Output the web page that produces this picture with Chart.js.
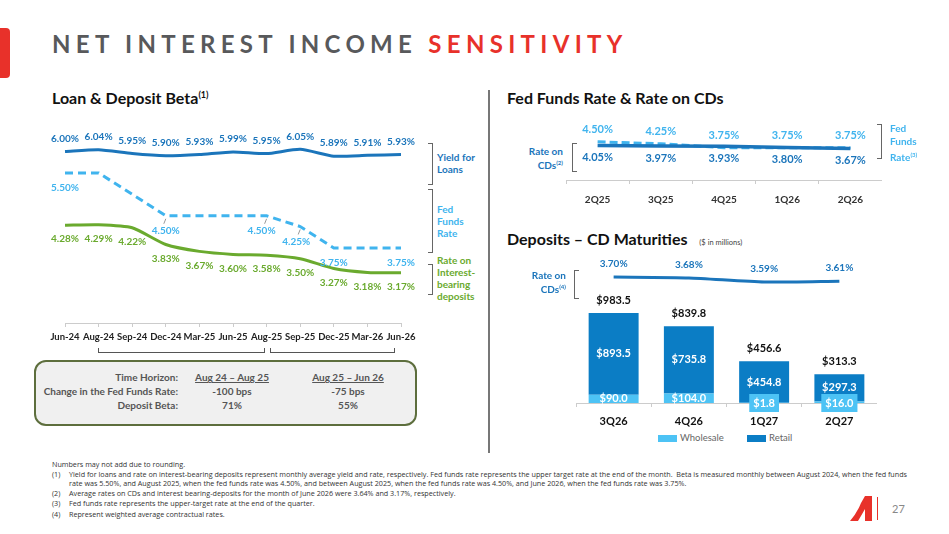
<!DOCTYPE html>
<html>
<head>
<meta charset="utf-8">
<title>Net Interest Income Sensitivity</title>
<script src="https://cdn.jsdelivr.net/npm/chart.js@4.4.1/dist/chart.umd.min.js"></script>
<style>
  html, body { margin: 0; padding: 0; background: #fff; }
  body { width: 949px; height: 534px; position: relative; overflow: hidden; font-family: "Lato", sans-serif; color: #222; }
  .abs { position: absolute; white-space: nowrap; }
  canvas { position: absolute; }
  .title { left: 52px; top: 29px; font-size: 24px; font-weight: 700; letter-spacing: 5.3px; color: #58595b; }
  .title span { color: #e8312a; }
  .h2 { font-size: 16px; font-weight: 700; color: #111; }
  .h2 sup { font-size: 9px; vertical-align: 6px; }
  .side { font-size: 10px; font-weight: 700; line-height: 12px; }
  .side sup { font-size: 6px; vertical-align: 4px; }
  .brR { position: absolute; width: 4px; border: 1.3px solid #666; border-left: none; }
  .brL { position: absolute; width: 4px; border: 1.3px solid #666; border-right: none; }
  .brU { position: absolute; height: 4px; border: 1.3px solid #555; border-top: none; }
  .box { left: 34px; top: 360px; width: 379px; height: 62px; border: 2px solid #5d6e3d; border-radius: 12px; background: #f0f0f0; }
  .bx { font-size: 10px; font-weight: 700; color: #555; }
  .note { font-size: 7.2px; color: #333; font-family: "Open Sans", sans-serif; }
</style>
</head>
<body>
<div class="abs" style="left:0;top:28px;width:10px;height:50px;background:#e8312a;border-radius:0 4px 4px 0"></div>
<div class="abs title">NET INTEREST INCOME <span>SENSITIVITY</span></div>

<div class="abs h2" style="left:52px;top:88px">Loan &amp; Deposit Beta<sup>(1)</sup></div>
<div class="abs h2" style="left:507px;top:88px">Fed Funds Rate &amp; Rate on CDs</div>
<div class="abs h2" style="left:507px;top:229px">Deposits – CD Maturities <span style="font-size:7.5px;font-weight:400;color:#444;margin-left:8px">($ in millions)</span></div>

<div class="abs" style="left:488px;top:90px;width:1.5px;height:363px;background:#777"></div>

<canvas id="betaChart" style="left:40px;top:95px;width:386px;height:248px"></canvas>
<canvas id="fedChart" style="left:566px;top:100px;width:316px;height:108px"></canvas>
<canvas id="cdChart" style="left:576px;top:250px;width:301px;height:181px"></canvas>

<!-- left chart side labels -->
<div class="brR" style="left:428px;top:143px;height:40px"></div>
<div class="abs side" style="left:437px;top:151px;color:#1b75bb">Yield for<br>Loans</div>
<div class="brR" style="left:428px;top:189px;height:62px"></div>
<div class="abs side" style="left:437px;top:203px;color:#40b4ee">Fed<br>Funds<br>Rate</div>
<div class="brR" style="left:428px;top:264px;height:29px"></div>
<div class="abs side" style="left:437px;top:254px;color:#6aaa2e">Rate on<br>Interest-<br>bearing<br>deposits</div>

<!-- period brackets and summary box -->
<div class="brU" style="left:98px;top:348px;width:165px"></div>
<div class="brU" style="left:270px;top:348px;width:123px"></div>
<div class="abs box"></div>
<div class="abs bx" style="right:771px;top:371px;text-align:right">Time Horizon:</div>
<div class="abs bx" style="right:771px;top:385px;text-align:right">Change in the Fed Funds Rate:</div>
<div class="abs bx" style="right:771px;top:399px;text-align:right">Deposit Beta:</div>
<div class="abs bx" style="left:182px;width:100px;top:371px;text-align:center;text-decoration:underline">Aug 24 – Aug 25</div>
<div class="abs bx" style="left:182px;width:100px;top:385px;text-align:center">-100 bps</div>
<div class="abs bx" style="left:182px;width:100px;top:399px;text-align:center">71%</div>
<div class="abs bx" style="left:298px;width:100px;top:371px;text-align:center;text-decoration:underline">Aug 25 – Jun 26</div>
<div class="abs bx" style="left:298px;width:100px;top:385px;text-align:center">-75 bps</div>
<div class="abs bx" style="left:298px;width:100px;top:399px;text-align:center">55%</div>

<!-- top right side labels -->
<div class="abs side" style="right:386px;top:145px;text-align:right;color:#1b75bb">Rate on<br>CDs<sup>(2)</sup></div>
<div class="brL" style="left:572px;top:143px;height:27px"></div>
<div class="brR" style="left:877px;top:124px;height:33px"></div>
<div class="abs side" style="left:890px;top:122px;color:#40b4ee;line-height:13px">Fed<br>Funds<br>Rate<sup>(3)</sup></div>

<!-- bottom right side labels -->
<div class="abs side" style="right:383px;top:269px;text-align:right;color:#1b75bb">Rate on<br>CDs<sup>(4)</sup></div>
<div class="brL" style="left:574px;top:270px;height:27px"></div>

<div class="abs" style="left:658px;top:435px;width:19px;height:7px;background:#4dc3f5"></div>
<div class="abs" style="left:680px;top:432px;font-size:9.5px;color:#666">Wholesale</div>
<div class="abs" style="left:747px;top:435px;width:19px;height:7px;background:#0b7dc5"></div>
<div class="abs" style="left:769px;top:432px;font-size:9.5px;color:#666">Retail</div>

<!-- footnotes -->
<div class="abs note" style="left:52px;top:459px">Numbers may not add due to rounding.</div>
<div class="abs note" style="left:52px;top:469px">(1)</div>
<div class="abs note" style="left:69px;top:469px">Yield for loans and rate on interest-bearing deposits represent monthly average yield and rate, respectively. Fed funds rate represents the upper target rate at the end of the month.&nbsp; Beta is measured monthly between August 2024, when the fed funds</div>
<div class="abs note" style="left:69px;top:478px">rate was 5.50%, and August 2025, when the fed funds rate was 4.50%, and between August 2025, when the fed funds rate was 4.50%, and June 2026, when the fed funds rate was 3.75%.</div>
<div class="abs note" style="left:52px;top:488px">(2)</div>
<div class="abs note" style="left:69px;top:488px">Average rates on CDs and interest bearing-deposits for the month of June 2026 were 3.64% and 3.17%, respectively.</div>
<div class="abs note" style="left:52px;top:498px">(3)</div>
<div class="abs note" style="left:69px;top:498px">Fed funds rate represents the upper-target rate at the end of the quarter.</div>
<div class="abs note" style="left:52px;top:509px">(4)</div>
<div class="abs note" style="left:69px;top:509px">Represent weighted average contractual rates.</div>

<svg class="abs" style="left:850px;top:496px" width="24" height="25" viewBox="0 0 24 25">
  <path d="M0 25 Q7 17 11 7 L15 0 L22 0 L22 25 L15 25 L15 13 Q11 20 8 25 Z" fill="#e8312a"/>
</svg>
<div class="abs" style="left:877px;top:497px;width:1.3px;height:23px;background:#e8312a"></div>
<div class="abs" style="left:892px;top:502px;font-size:11px;color:#888">27</div>

<script>
// ---- data ----
const betaMonths = ['Jun-24', 'Aug-24', 'Sep-24', 'Dec-24', 'Mar-25', 'Jun-25', 'Aug-25', 'Sep-25', 'Dec-25', 'Mar-26', 'Jun-26'];
const loanYield = [6.00, 6.04, 5.95, 5.90, 5.93, 5.99, 5.95, 6.05, 5.89, 5.91, 5.93];
const fedFundsMonthly = [5.50, 5.50, 5.00, 4.50, 4.50, 4.50, 4.50, 4.25, 3.75, 3.75, 3.75];
const depositRate = [4.28, 4.29, 4.22, 3.83, 3.67, 3.60, 3.58, 3.50, 3.27, 3.18, 3.17];

const quarters = ['2Q25', '3Q25', '4Q25', '1Q26', '2Q26'];
const fedFundsQtr = [4.50, 4.25, 3.75, 3.75, 3.75];
const cdRateQtr = [4.05, 3.97, 3.93, 3.80, 3.67];

const maturityQtrs = ['3Q26', '4Q26', '1Q27', '2Q27'];
const wholesale = [90.0, 104.0, 1.8, 16.0];
const retail = [893.5, 735.8, 454.8, 297.3];
const maturityCdRate = [3.70, 3.68, 3.59, 3.61];

const DARK = '#1b75bb', LIGHT = '#40b4ee', GREEN = '#6aaa2e';
const pct = v => v.toFixed(2) + '%';
const usd = v => '$' + v.toFixed(1);

Chart.defaults.font.family = 'Lato';
Chart.defaults.animation = false;
Chart.defaults.plugins.legend.display = false;
Chart.defaults.plugins.tooltip.enabled = false;

// draws value labels next to points / inside bars
const pointLabels = {
    id: 'pointLabels',
    afterDatasetsDraw(chart) {
        const ctx = chart.ctx;
        chart.data.datasets.forEach((ds, i) => {
            const o = ds.pointLabel;
            if (!o) return;
            chart.getDatasetMeta(i).data.forEach((el, j) => {
                if (o.only && !o.only.includes(j)) return;
                const text = o.format(ds.data[j]);
                let x = el.x + ((o.dx && o.dx[j]) || 0);
                let y = el.y + (o.dy || 0);
                ctx.save();
                ctx.font = o.font;
                ctx.textAlign = 'center';
                ctx.textBaseline = 'middle';
                if (o.mode === 'center') {
                    y = (el.y + el.base) / 2;
                } else if (o.mode === 'base') {
                    const h = el.base - el.y;
                    if (h < 5) {
                        // tiny segment: put the label in a little box on the axis
                        const w = ctx.measureText(text).width + 8;
                        ctx.fillStyle = o.boxColor;
                        ctx.fillRect(x - w / 2, el.base - 9, w, 18);
                        y = el.base;
                    } else {
                        y = el.base - 5;
                    }
                }
                if (o.leader && o.leader.includes(j)) {
                    ctx.strokeStyle = '#999';
                    ctx.lineWidth = 1;
                    ctx.beginPath();
                    ctx.moveTo(el.x, el.y + 3);
                    ctx.lineTo(el.x - 2, el.y + 8);
                    ctx.stroke();
                }
                ctx.fillStyle = o.color;
                ctx.fillText(text, x, y);
                ctx.restore();
            });
        });
    }
};

// Loan & Deposit Beta
new Chart(document.getElementById('betaChart'), {
    type: 'line',
    data: {
        labels: betaMonths,
        datasets: [
            {
                data: loanYield, borderColor: DARK, borderWidth: 3, pointRadius: 0, tension: 0.2,
                pointLabel: { format: pct, color: DARK, font: 'bold 10px Lato', dy: -13 }
            },
            {
                data: fedFundsMonthly, borderColor: LIGHT, borderWidth: 3, borderDash: [8, 5], pointRadius: 0, tension: 0,
                pointLabel: { format: pct, color: LIGHT, font: 'bold 10px Lato', dy: 15,
                    only: [0, 3, 6, 7, 8, 10], leader: [3, 6, 7], dx: { 6: -5, 7: -4 } }
            },
            {
                data: depositRate, borderColor: GREEN, borderWidth: 3, pointRadius: 0, tension: 0.2,
                pointLabel: { format: pct, color: GREEN, font: 'bold 10px Lato', dy: 14 }
            }
        ]
    },
    options: {
        responsive: false,
        layout: { padding: { left: 25, right: 25, top: 5, bottom: 0 } },
        scales: {
            x: {
                offset: false,
                afterFit: s => { s.height = 20; },
                border: { color: '#ccc' },
                grid: { drawOnChartArea: false, tickLength: 4, color: '#ccc' },
                ticks: { autoSkip: false, maxRotation: 0, padding: 4, color: '#222', font: { size: 9.5, weight: 'bold' } }
            },
            y: { display: false, min: 2.0, max: 7.2 }
        }
    },
    plugins: [pointLabels]
});

// Fed Funds Rate & Rate on CDs
new Chart(document.getElementById('fedChart'), {
    type: 'line',
    data: {
        labels: quarters,
        datasets: [
            {
                data: cdRateQtr, borderColor: DARK, borderWidth: 3.5, pointRadius: 0,
                pointLabel: { format: pct, color: DARK, font: 'bold 11px Lato', dy: 12 }
            },
            {
                data: fedFundsQtr, borderColor: LIGHT, borderWidth: 3, borderDash: [8, 4], pointRadius: 0,
                pointLabel: { format: pct, color: LIGHT, font: 'bold 11px Lato', dy: -12 }
            }
        ]
    },
    options: {
        responsive: false,
        layout: { padding: { left: 0, right: 0, top: 10, bottom: 0 } },
        scales: {
            x: {
                offset: true,
                afterFit: s => { s.height = 28; },
                border: { color: '#ccc' },
                grid: { offset: true, drawOnChartArea: false, tickLength: 4, color: '#ccc' },
                ticks: { padding: 10, color: '#333', font: { size: 10, weight: 'bold' } }
            },
            y: { display: false, min: -0.3, max: 8.5 }
        }
    },
    plugins: [pointLabels]
});

// Deposits - CD Maturities
const barTotals = {
    id: 'barTotals',
    afterDatasetsDraw(chart) {
        const ctx = chart.ctx;
        const meta = chart.getDatasetMeta(2);
        meta.data.forEach((el, j) => {
            ctx.save();
            ctx.font = 'bold 11px Lato';
            ctx.fillStyle = '#111';
            ctx.textAlign = 'center';
            ctx.textBaseline = 'middle';
            ctx.fillText(usd(wholesale[j] + retail[j]), el.x, el.y - 13);
            ctx.restore();
        });
    }
};

new Chart(document.getElementById('cdChart'), {
    data: {
        labels: maturityQtrs,
        datasets: [
            {
                type: 'line', data: maturityCdRate, yAxisID: 'y2', borderColor: DARK, borderWidth: 3, pointRadius: 0, tension: 0.2,
                pointLabel: { format: pct, color: DARK, font: 'bold 10px Lato', dy: -13 }
            },
            {
                type: 'bar', label: 'Wholesale', data: wholesale, backgroundColor: '#4dc3f5', stack: 'cd',
                categoryPercentage: 0.8, barPercentage: 0.83,
                pointLabel: { format: usd, color: '#fff', font: 'bold 11px Lato', mode: 'base', boxColor: '#4dc3f5' }
            },
            {
                type: 'bar', label: 'Retail', data: retail, backgroundColor: '#0b7dc5', stack: 'cd',
                categoryPercentage: 0.8, barPercentage: 0.83,
                pointLabel: { format: usd, color: '#fff', font: 'bold 11px Lato', mode: 'center' }
            }
        ]
    },
    options: {
        responsive: false,
        layout: { padding: { left: 0, right: 0, top: 10, bottom: 0 } },
        scales: {
            x: {
                stacked: true,
                afterFit: s => { s.height = 28; },
                border: { color: '#ccc' },
                grid: { offset: true, drawOnChartArea: false, tickLength: 4, color: '#ccc' },
                ticks: { padding: 8, color: '#111', font: { size: 11, weight: 'bold' } }
            },
            y: { display: false, stacked: true, min: 0, max: 1563 },
            y2: { display: false, min: 0.9, max: 4.08 }
        }
    },
    plugins: [pointLabels, barTotals]
});
</script>
</body>
</html>
